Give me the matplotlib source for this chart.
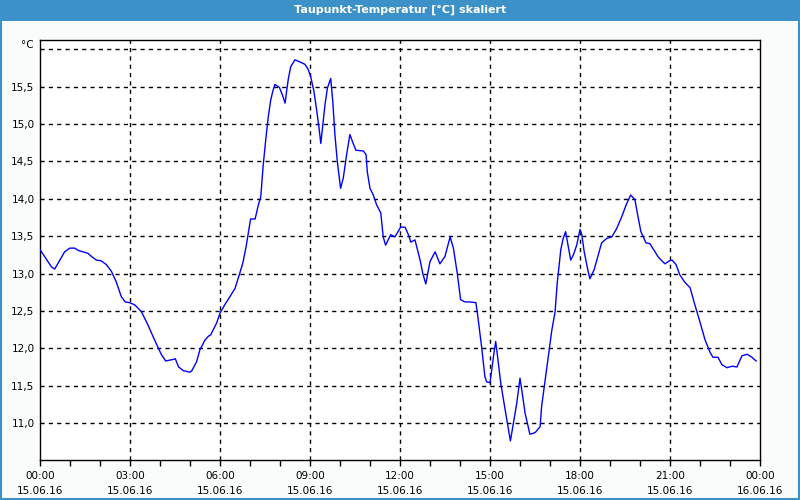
import matplotlib
matplotlib.use("Agg")
import matplotlib.pyplot as plt
from matplotlib.patches import Rectangle
from matplotlib.ticker import FixedLocator, MultipleLocator

# ---- data (hours since 15.06.16 00:00, dew point in °C) ----
hours = [
    0.00, 0.38, 0.49, 0.82, 0.99, 1.16, 1.27, 1.60, 1.71, 1.88, 2.04, 2.21, 2.38, 2.54,
    2.71, 2.84, 2.99, 3.16, 3.38, 3.60, 3.82, 4.04, 4.19, 4.43, 4.51, 4.62, 4.78, 5.00,
    5.06, 5.22, 5.33, 5.50, 5.61, 5.69, 5.89, 6.00, 6.17, 6.33, 6.50, 6.64, 6.76, 6.87,
    6.96, 7.02, 7.17, 7.28, 7.36, 7.44, 7.53, 7.61, 7.69, 7.76, 7.83, 7.98, 8.08, 8.17,
    8.22, 8.28, 8.36, 8.50, 8.67, 8.83, 8.94, 9.02, 9.13, 9.22, 9.30, 9.36, 9.50, 9.58,
    9.69, 9.76, 9.83, 9.91, 10.02, 10.11, 10.22, 10.33, 10.44, 10.53, 10.78, 10.87,
    10.91, 11.00, 11.11, 11.22, 11.36, 11.44, 11.52, 11.69, 11.83, 12.02, 12.17, 12.28,
    12.36, 12.50, 12.67, 12.76, 12.86, 13.00, 13.17, 13.33, 13.50, 13.67, 13.78, 13.91,
    14.02, 14.17, 14.33, 14.53, 14.58, 14.72, 14.83, 14.89, 15.00, 15.13, 15.19, 15.24,
    15.36, 15.47, 15.58, 15.68, 15.78, 15.89, 16.00, 16.06, 16.17, 16.33, 16.50, 16.67,
    16.72, 16.81, 16.94, 17.06, 17.17, 17.24, 17.36, 17.44, 17.52, 17.61, 17.69, 17.78,
    17.89, 18.00, 18.06, 18.14, 18.26, 18.33, 18.47, 18.61, 18.72, 18.89, 19.06, 19.22,
    19.39, 19.56, 19.69, 19.83, 19.91, 20.03, 20.20, 20.33, 20.50, 20.61, 20.83, 20.98,
    21.07, 21.20, 21.33, 21.50, 21.67, 21.83, 22.00, 22.17, 22.33, 22.43, 22.60, 22.73,
    22.90, 23.07, 23.23, 23.40, 23.57, 23.73, 23.87,
]
dewpoint = [
    13.32, 13.09, 13.06, 13.29, 13.34, 13.34, 13.31, 13.27, 13.23, 13.18, 13.17, 13.12, 13.03, 12.89,
    12.69, 12.62, 12.61, 12.58, 12.49, 12.31, 12.11, 11.92, 11.83, 11.85, 11.86, 11.75, 11.70, 11.68,
    11.70, 11.82, 11.98, 12.11, 12.16, 12.18, 12.34, 12.47, 12.59, 12.69, 12.80, 12.98, 13.14, 13.36,
    13.58, 13.73, 13.73, 13.92, 14.03, 14.45, 14.81, 15.10, 15.32, 15.44, 15.53, 15.49, 15.39, 15.28,
    15.44, 15.61, 15.77, 15.86, 15.83, 15.80, 15.73, 15.64, 15.44, 15.19, 14.95, 14.74, 15.26, 15.48,
    15.61, 15.30, 14.86, 14.50, 14.14, 14.28, 14.59, 14.86, 14.74, 14.65, 14.64, 14.59,
    14.36, 14.14, 14.05, 13.92, 13.81, 13.49, 13.38, 13.52, 13.49, 13.62, 13.62, 13.52,
    13.42, 13.45, 13.18, 13.00, 12.86, 13.16, 13.29, 13.13, 13.23, 13.49, 13.34, 13.00,
    12.65, 12.62, 12.62, 12.61, 12.47, 12.02, 11.62, 11.55, 11.54, 11.93, 12.09, 11.93,
    11.53, 11.26, 11.00, 10.76, 11.00, 11.26, 11.60, 11.44, 11.13, 10.85, 10.87, 10.95,
    11.22, 11.49, 11.89, 12.24, 12.49, 12.87, 13.32, 13.47, 13.56, 13.36, 13.18, 13.25,
    13.38, 13.59, 13.52, 13.29, 13.05, 12.93, 13.05, 13.25, 13.41, 13.47, 13.49, 13.60,
    13.76, 13.94, 14.05, 13.99, 13.81, 13.56, 13.41, 13.40, 13.29, 13.22, 13.13, 13.17,
    13.18, 13.12, 12.98, 12.88, 12.81, 12.58, 12.35, 12.11, 11.95, 11.88, 11.88, 11.78,
    11.74, 11.76, 11.75, 11.90, 11.92, 11.88, 11.83,
]
xtick_hours = [0, 3, 6, 9, 12, 15, 18, 21, 24]
xtick_labels = ["00:00\n15.06.16", "03:00\n15.06.16", "06:00\n15.06.16", "09:00\n15.06.16",
                "12:00\n15.06.16", "15:00\n15.06.16", "18:00\n15.06.16", "21:00\n15.06.16",
                "00:00\n16.06.16"]
ytick_values = [11.0, 11.5, 12.0, 12.5, 13.0, 13.5, 14.0, 14.5, 15.0, 15.5, 16.0]
ytick_labels = ["11,0", "11,5", "12,0", "12,5", "13,0", "13,5", "14,0", "14,5", "15,0", "15,5", ""]
title = "Taupunkt-Temperatur [°C] skaliert"
unit = "°C"

W, H = 800, 500
fig = plt.figure(figsize=(W / 100, H / 100), dpi=100, facecolor="#fafcfb")

# title bar and frame
blue = "#3c91c8"
fig.patches.append(Rectangle((0, 1 - 21 / H), 1, 21 / H, transform=fig.transFigure,
                             facecolor=blue, edgecolor="none", zorder=0))
fig.patches.append(Rectangle((0, 0), 2 / W, 1, transform=fig.transFigure,
                             facecolor=blue, edgecolor="none", zorder=0))
fig.patches.append(Rectangle((1 - 2 / W, 0), 2 / W, 1, transform=fig.transFigure,
                             facecolor=blue, edgecolor="none", zorder=0))
fig.patches.append(Rectangle((0, 0), 1, 2 / H, transform=fig.transFigure,
                             facecolor=blue, edgecolor="none", zorder=0))
fig.text(0.5, 1 - 10 / H, title, color="white", fontsize=8, fontweight="bold",
         ha="center", va="center", family="DejaVu Sans")

ax = fig.add_axes([40 / W, (H - 460) / H, 720 / W, 420 / H], facecolor="white")
ax.plot(hours, dewpoint, color="#0000ff", lw=1.0, zorder=3)

ax.set_xlim(0, 24)
ax.set_ylim(10.505, 16.125)

ax.xaxis.set_major_locator(FixedLocator(xtick_hours))
ax.set_xticklabels(xtick_labels, fontsize=7.5, linespacing=1.55)
ax.xaxis.set_minor_locator(MultipleLocator(1))
ax.tick_params(axis="x", which="both", direction="out", length=4, width=1, color="black", pad=4)

ax.set_yticks(ytick_values)
ax.set_yticklabels(ytick_labels, fontsize=7.5)
ax.tick_params(axis="y", which="both", length=0, pad=4)

for v in ytick_values:
    ax.axhline(v, color="black", lw=1, ls=(0, (3, 3)), zorder=1)
for h in xtick_hours[1:-1]:
    ax.axvline(h, color="black", lw=1, ls=(0, (3, 3)), zorder=1)

for s in ax.spines.values():
    s.set_color("black")
    s.set_linewidth(1)

fig.text(27 / W, 1 - 45 / H, unit, fontsize=7.5, ha="center", va="center")

fig.savefig("out.png", dpi=100, facecolor=fig.get_facecolor())
